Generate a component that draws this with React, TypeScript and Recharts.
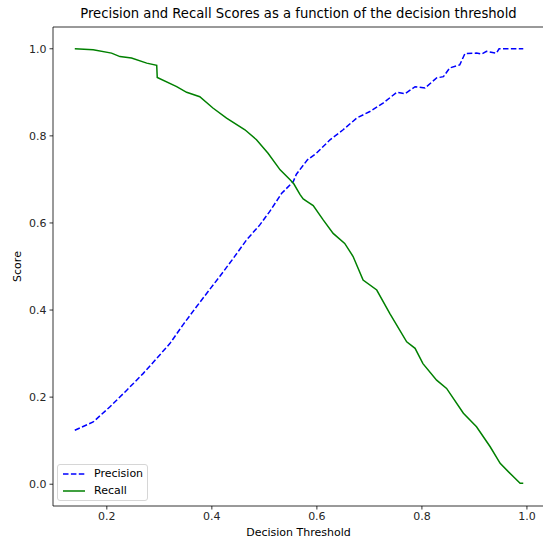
import { LineChart, Line, XAxis, YAxis, ReferenceLine } from 'recharts'

const TITLE = 'Precision and Recall Scores as a function of the decision threshold'

const precisionThresholds = [
  0.139, 0.174, 0.206, 0.238, 0.269, 0.295, 0.32, 0.345, 0.371, 0.39, 0.415, 0.441,
  0.466, 0.491, 0.51, 0.533, 0.555, 0.561, 0.582, 0.599, 0.625, 0.65, 0.676, 0.701,
  0.726, 0.752, 0.768, 0.787, 0.806, 0.828, 0.841, 0.853, 0.872, 0.882, 0.904, 0.914,
  0.923, 0.942, 0.947, 0.993,
]
const precisionValues = [
  0.124, 0.143, 0.178, 0.216, 0.254, 0.289, 0.323, 0.366, 0.408, 0.438, 0.477, 0.519,
  0.561, 0.595, 0.626, 0.668, 0.695, 0.712, 0.745, 0.76, 0.791, 0.814, 0.841, 0.856,
  0.875, 0.9, 0.897, 0.913, 0.91, 0.933, 0.936, 0.956, 0.963, 0.989, 0.99, 0.988,
  0.994, 0.99, 1.0, 1.0,
]

const recallThresholds = [
  0.139, 0.174, 0.209, 0.225, 0.247, 0.276, 0.295, 0.296, 0.333, 0.352, 0.377, 0.402,
  0.428, 0.463, 0.485, 0.507, 0.53, 0.549, 0.556, 0.568, 0.574, 0.583, 0.593, 0.612,
  0.631, 0.653, 0.669, 0.688, 0.714, 0.739, 0.771, 0.787, 0.802, 0.828, 0.847, 0.879,
  0.904, 0.93, 0.949, 0.971, 0.987, 0.993,
]
const recallValues = [
  1.0, 0.998, 0.99, 0.982, 0.979, 0.967, 0.962, 0.934, 0.913, 0.9, 0.89, 0.864,
  0.841, 0.814, 0.791, 0.76, 0.722, 0.699, 0.69, 0.665, 0.655, 0.648, 0.64, 0.607,
  0.576, 0.553, 0.523, 0.469, 0.446, 0.392, 0.327, 0.312, 0.277, 0.239, 0.22, 0.163,
  0.132, 0.086, 0.048, 0.021, 0.002, 0.002,
]

const xTicks = [0.2, 0.4, 0.6, 0.8, 1.0]
const yTicks = [0.0, 0.2, 0.4, 0.6, 0.8, 1.0]

const BLUE = '#0000ff'
const GREEN = '#008000'
const FONT = 'DejaVu Sans, sans-serif'
const TICK = { fontSize: 11, fill: '#262626', fontFamily: FONT }
const LABEL = { fontSize: 11, fill: '#000', fontFamily: FONT }

const precisionData = precisionThresholds.map((t, i) => ({ t, v: precisionValues[i] }))
const recallData = recallThresholds.map((t, i) => ({ t, v: recallValues[i] }))

export default function App() {
  return (
    <div style={{ position: 'absolute', left: 0, top: 0, width: 543, height: 539, overflow: 'hidden', background: '#fff' }}>
      <div style={{
        position: 'absolute',
        top: 6,
        left: 53,
        width: 491,
        textAlign: 'center',
        fontFamily: FONT,
        fontSize: 13.2,
        lineHeight: '16px',
        color: '#000',
        whiteSpace: 'nowrap',
      }}>
        {TITLE}
      </div>
      <LineChart width={545} height={539} margin={{ top: 27, right: 1, bottom: 0, left: 0 }}>
        <XAxis
          dataKey="t"
          type="number"
          domain={[0.0975, 1.0325]}
          ticks={xTicks}
          allowDataOverflow
          tickFormatter={(v) => v.toFixed(1)}
          tick={TICK}
          tickSize={3.5}
          tickMargin={3}
          tickLine={{ stroke: '#000', strokeWidth: 0.8 }}
          axisLine={{ stroke: '#000', strokeWidth: 0.8 }}
          height={33}
          label={{ value: 'Decision Threshold', position: 'insideBottom', offset: 3, style: LABEL }}
        />
        <YAxis
          type="number"
          domain={[-0.05, 1.05]}
          ticks={yTicks}
          allowDataOverflow
          tickFormatter={(v) => v.toFixed(1)}
          tick={TICK}
          tickSize={3.5}
          tickMargin={3}
          tickLine={{ stroke: '#000', strokeWidth: 0.8 }}
          axisLine={{ stroke: '#000', strokeWidth: 0.8 }}
          width={53}
          label={{ value: 'Score', angle: -90, position: 'insideLeft', offset: 17, style: { ...LABEL, textAnchor: 'middle' } }}
        />
        <ReferenceLine y={1.05} stroke="#000" strokeWidth={0.8} />
        <Line
          data={precisionData}
          dataKey="v"
          type="linear"
          stroke={BLUE}
          strokeWidth={1.5}
          strokeDasharray="5.5 2.4"
          dot={false}
          isAnimationActive={false}
        />
        <Line
          data={recallData}
          dataKey="v"
          type="linear"
          stroke={GREEN}
          strokeWidth={1.5}
          dot={false}
          isAnimationActive={false}
        />
      </LineChart>
      <div style={{
        position: 'absolute',
        left: 57,
        top: 464,
        width: 91,
        height: 37,
        border: '1px solid #d6d6d6',
        borderRadius: 3,
        background: 'rgba(255,255,255,0.8)',
        fontFamily: FONT,
        fontSize: 11,
        color: '#000',
        boxSizing: 'border-box',
      }}>
        {[{ name: 'Precision', color: BLUE, dash: '5.5 2.4' }, { name: 'Recall', color: GREEN, dash: undefined }].map((s, i) => (
          <div key={s.name} style={{ position: 'absolute', left: 4, top: 1 + i * 17, height: 16, display: 'flex', alignItems: 'center' }}>
            <svg width={24} height={16} style={{ display: 'block' }}>
              <line x1={1} y1={8} x2={23} y2={8} stroke={s.color} strokeWidth={1.5} strokeDasharray={s.dash} />
            </svg>
            <span style={{ marginLeft: 8, lineHeight: '16px' }}>{s.name}</span>
          </div>
        ))}
      </div>
    </div>
  )
}
